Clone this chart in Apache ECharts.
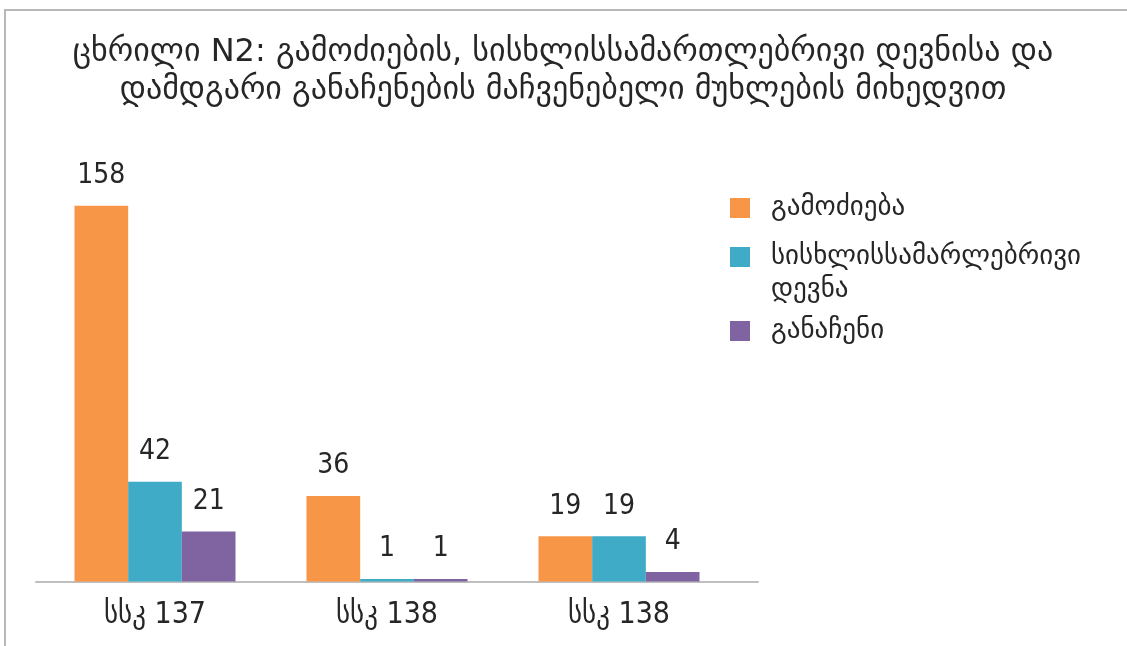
<!DOCTYPE html>
<html>
<head>
<meta charset="utf-8">
<script src="https://cdn.jsdelivr.net/npm/echarts@6/dist/echarts.min.js"></script>
<style>
  html, body { margin: 0; padding: 0; background: #fff; }
  #frame { position: absolute; left: 4px; top: 9px; width: 1123px; height: 637px;
           border-left: 2px solid #b8b8b8; border-top: 2px solid #b8b8b8; box-sizing: border-box; }
  #chart { position: absolute; left: 0; top: 0; width: 1127px; height: 646px; }
</style>
</head>
<body>
<div id="frame"></div>
<div id="chart"></div>
<script>
const titleText = 'ცხრილი N2: გამოძიების, სისხლისსამართლებრივი დევნისა და\nდამდგარი განაჩენების მაჩვენებელი მუხლების მიხედვით';
const categories = ['სსკ 137', 'სსკ 138', 'სსკ 138'];
const seriesNames = ['გამოძიება', 'სისხლისსამარლებრივი დევნა', 'განაჩენი'];
const legendLabels = ['გამოძიება', '\nსისხლისსამარლებრივი\nდევნა', 'განაჩენი'];
const investigation = [158, 36, 19];
const prosecution = [42, 1, 19];
const verdicts = [21, 1, 4];
const colors = ['#F79646', '#3FABC7', '#8064A2'];

const seriesValues = [investigation, prosecution, verdicts];
const condensed = '"DejaVu Sans Condensed", sans-serif';
const textColor = '#262626';

const chart = echarts.init(document.getElementById('chart'), null, { renderer: 'canvas' });

const legendTops = [191.5, 207.5, 314.5];
const legends = seriesNames.map((name, i) => ({
  data: [name],
  orient: 'vertical',
  left: 730,
  top: legendTops[i],
  padding: 0,
  icon: 'rect',
  itemWidth: 20,
  itemHeight: 20,
  selectedMode: false,
  formatter: () => legendLabels[i],
  textStyle: {
    fontFamily: '"DejaVu Sans", sans-serif',
    fontSize: 27,
    color: textColor,
    lineHeight: 33,
    padding: [0, 0, 0, 16]
  }
}));

chart.setOption({
  animation: false,
  backgroundColor: 'transparent',
  title: {
    text: titleText,
    left: 558,
    top: 29,
    textAlign: 'center',
    textStyle: {
      fontFamily: '"DejaVu Sans", sans-serif',
      fontWeight: 'normal',
      fontSize: 32,
      lineHeight: 38,
      color: textColor
    }
  },
  legend: legends,
  grid: [
    { left: 39, right: 392, top: 153.5, bottom: 64.5 },
    { left: 36, right: 369, top: 153.5, bottom: 64.5 }
  ],
  xAxis: [
    {
      type: 'category',
      gridIndex: 0,
      data: categories,
      axisLine: { show: false },
      axisTick: { show: false },
      axisLabel: {
        margin: 19,
        fontFamily: condensed,
        fontSize: 30,
        color: textColor
      }
    },
    {
      type: 'value',
      gridIndex: 1,
      axisLine: { show: true, onZero: false, lineStyle: { color: '#bfbfbf', width: 2 } },
      axisTick: { show: false },
      axisLabel: { show: false },
      splitLine: { show: false }
    }
  ],
  yAxis: [
    { type: 'value', gridIndex: 0, min: 0, max: 180, show: false, splitLine: { show: false } },
    { type: 'value', gridIndex: 1, show: false, splitLine: { show: false } }
  ],
  series: seriesNames.map((name, i) => ({
    name: name,
    type: 'bar',
    xAxisIndex: 0,
    yAxisIndex: 0,
    data: seriesValues[i],
    barGap: '0%',
    barCategoryGap: '30.6%',
    z: 3,
    itemStyle: { color: colors[i] },
    label: {
      show: true,
      position: 'top',
      distance: 16,
      fontFamily: condensed,
      fontSize: 28,
      color: textColor
    }
  }))
});
</script>
</body>
</html>
